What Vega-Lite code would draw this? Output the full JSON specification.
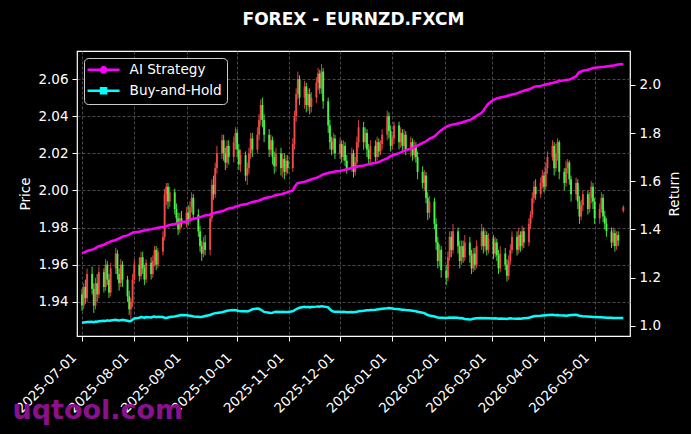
{
"$schema": "https://vega.github.io/schema/vega-lite/v6.json",
"width": 553, "height": 285,
"autosize": {"type": "none"},
"padding": {"left": 77, "top": 51, "right": 61, "bottom": 98},
"background": "#000000",
"title": {"text": "FOREX - EURNZD.FXCM", "color": "#ffffff", "font": "DejaVu Sans", "fontSize": 17, "fontWeight": "bold", "anchor": "middle", "baseline": "alphabetic", "offset": 9},
"config": {
 "view": {"stroke": "#ffffff", "strokeWidth": 1.2},
 "axis": {"domain": false, "tickColor": "#ffffff", "tickSize": 5, "tickWidth": 1, "labelColor": "#ffffff", "labelFont": "DejaVu Sans", "labelFontSize": 13.5, "labelPadding": 4, "titleColor": "#ffffff", "titleFont": "DejaVu Sans", "titleFontSize": 13.5, "titleFontWeight": "normal", "gridColor": "#5a5a5a", "gridDash": [3, 2], "gridWidth": 0.8},
 "legend": {"orient": "none", "legendX": 7, "legendY": 7, "fillColor": "#000000", "strokeColor": "#cccccc", "strokeWidth": 1, "cornerRadius": 4, "padding": 5, "rowPadding": 5, "labelColor": "#ffffff", "labelFont": "DejaVu Sans", "labelFontSize": 13.6, "symbolSize": 100, "symbolStrokeWidth": 2.5, "labelOffset": 27}
},
"data": {"values": [
{"d":"2025-07-01","o":1.944,"h":1.947,"l":1.935,"c":1.938,"a":1.300,"b":1.012},
{"d":"2025-07-02","o":1.938,"h":1.950,"l":1.936,"c":1.948,"a":1.303,"b":1.013},
{"d":"2025-07-03","o":1.948,"h":1.952,"l":1.939,"c":1.942,"a":1.306,"b":1.014},
{"d":"2025-07-04","o":1.942,"h":1.958,"l":1.940,"c":1.955,"a":1.310,"b":1.015},
{"d":"2025-07-07","o":1.955,"h":1.959,"l":1.944,"c":1.947,"a":1.316,"b":1.016},
{"d":"2025-07-08","o":1.947,"h":1.950,"l":1.934,"c":1.938,"a":1.318,"b":1.014},
{"d":"2025-07-09","o":1.938,"h":1.953,"l":1.936,"c":1.950,"a":1.322,"b":1.017},
{"d":"2025-07-10","o":1.950,"h":1.955,"l":1.940,"c":1.944,"a":1.326,"b":1.016},
{"d":"2025-07-11","o":1.944,"h":1.959,"l":1.942,"c":1.956,"a":1.330,"b":1.018},
{"d":"2025-07-14","o":1.956,"h":1.958,"l":1.945,"c":1.948,"a":1.336,"b":1.020},
{"d":"2025-07-15","o":1.948,"h":1.963,"l":1.946,"c":1.960,"a":1.340,"b":1.019},
{"d":"2025-07-16","o":1.960,"h":1.962,"l":1.949,"c":1.952,"a":1.344,"b":1.022},
{"d":"2025-07-17","o":1.952,"h":1.955,"l":1.942,"c":1.945,"a":1.346,"b":1.020},
{"d":"2025-07-18","o":1.945,"h":1.961,"l":1.943,"c":1.958,"a":1.350,"b":1.021},
{"d":"2025-07-21","o":1.958,"h":1.969,"l":1.955,"c":1.966,"a":1.356,"b":1.024},
{"d":"2025-07-22","o":1.966,"h":1.968,"l":1.952,"c":1.955,"a":1.359,"b":1.022},
{"d":"2025-07-23","o":1.955,"h":1.958,"l":1.946,"c":1.950,"a":1.362,"b":1.021},
{"d":"2025-07-24","o":1.950,"h":1.963,"l":1.948,"c":1.960,"a":1.366,"b":1.023},
{"d":"2025-07-25","o":1.960,"h":1.962,"l":1.948,"c":1.952,"a":1.370,"b":1.024},
{"d":"2025-07-28","o":1.952,"h":1.954,"l":1.940,"c":1.943,"a":1.375,"b":1.020},
{"d":"2025-07-29","o":1.943,"h":1.946,"l":1.933,"c":1.936,"a":1.378,"b":1.018},
{"d":"2025-07-30","o":1.936,"h":1.942,"l":1.930,"c":1.940,"a":1.382,"b":1.019},
{"d":"2025-07-31","o":1.940,"h":1.955,"l":1.937,"c":1.952,"a":1.386,"b":1.025},
{"d":"2025-08-01","o":1.952,"h":1.963,"l":1.950,"c":1.960,"a":1.388,"b":1.030},
{"d":"2025-08-04","o":1.960,"h":1.964,"l":1.951,"c":1.954,"a":1.390,"b":1.033},
{"d":"2025-08-05","o":1.954,"h":1.967,"l":1.952,"c":1.964,"a":1.392,"b":1.036},
{"d":"2025-08-06","o":1.964,"h":1.967,"l":1.955,"c":1.958,"a":1.394,"b":1.035},
{"d":"2025-08-07","o":1.958,"h":1.960,"l":1.949,"c":1.952,"a":1.395,"b":1.032},
{"d":"2025-08-08","o":1.952,"h":1.963,"l":1.950,"c":1.961,"a":1.397,"b":1.036},
{"d":"2025-08-11","o":1.961,"h":1.964,"l":1.952,"c":1.955,"a":1.400,"b":1.034},
{"d":"2025-08-12","o":1.955,"h":1.965,"l":1.953,"c":1.962,"a":1.402,"b":1.037},
{"d":"2025-08-13","o":1.962,"h":1.970,"l":1.959,"c":1.968,"a":1.404,"b":1.038},
{"d":"2025-08-14","o":1.968,"h":1.970,"l":1.957,"c":1.960,"a":1.405,"b":1.035},
{"d":"2025-08-15","o":1.960,"h":1.969,"l":1.958,"c":1.967,"a":1.407,"b":1.037},
{"d":"2025-08-18","o":1.967,"h":1.978,"l":1.965,"c":1.975,"a":1.410,"b":1.036},
{"d":"2025-08-19","o":1.975,"h":2.001,"l":1.973,"c":1.998,"a":1.412,"b":1.033},
{"d":"2025-08-20","o":1.998,"h":2.004,"l":1.992,"c":2.002,"a":1.413,"b":1.032},
{"d":"2025-08-21","o":2.002,"h":2.004,"l":1.990,"c":1.994,"a":1.416,"b":1.034},
{"d":"2025-08-22","o":1.994,"h":2.002,"l":1.991,"c":1.999,"a":1.418,"b":1.036},
{"d":"2025-08-25","o":1.999,"h":2.001,"l":1.987,"c":1.990,"a":1.422,"b":1.038},
{"d":"2025-08-26","o":1.990,"h":1.993,"l":1.982,"c":1.985,"a":1.424,"b":1.040},
{"d":"2025-08-27","o":1.985,"h":1.988,"l":1.976,"c":1.979,"a":1.426,"b":1.041},
{"d":"2025-08-28","o":1.979,"h":1.988,"l":1.977,"c":1.985,"a":1.429,"b":1.043},
{"d":"2025-08-29","o":1.985,"h":1.989,"l":1.980,"c":1.982,"a":1.431,"b":1.044},
{"d":"2025-09-01","o":1.982,"h":1.991,"l":1.980,"c":1.988,"a":1.433,"b":1.043},
{"d":"2025-09-02","o":1.988,"h":1.992,"l":1.981,"c":1.984,"a":1.436,"b":1.042},
{"d":"2025-09-03","o":1.984,"h":1.994,"l":1.982,"c":1.991,"a":1.439,"b":1.041},
{"d":"2025-09-04","o":1.991,"h":1.999,"l":1.988,"c":1.996,"a":1.442,"b":1.040},
{"d":"2025-09-05","o":1.996,"h":1.998,"l":1.984,"c":1.987,"a":1.444,"b":1.038},
{"d":"2025-09-08","o":1.987,"h":1.990,"l":1.975,"c":1.978,"a":1.448,"b":1.037},
{"d":"2025-09-09","o":1.978,"h":1.981,"l":1.967,"c":1.970,"a":1.451,"b":1.036},
{"d":"2025-09-10","o":1.970,"h":1.973,"l":1.962,"c":1.966,"a":1.453,"b":1.036},
{"d":"2025-09-11","o":1.966,"h":1.975,"l":1.964,"c":1.972,"a":1.456,"b":1.038},
{"d":"2025-09-12","o":1.972,"h":1.976,"l":1.965,"c":1.968,"a":1.458,"b":1.040},
{"d":"2025-09-15","o":1.968,"h":1.988,"l":1.965,"c":1.985,"a":1.461,"b":1.044},
{"d":"2025-09-16","o":1.985,"h":2.006,"l":1.983,"c":2.003,"a":1.464,"b":1.048},
{"d":"2025-09-17","o":2.003,"h":2.008,"l":1.995,"c":1.998,"a":1.467,"b":1.050},
{"d":"2025-09-18","o":1.998,"h":2.015,"l":1.996,"c":2.012,"a":1.469,"b":1.052},
{"d":"2025-09-19","o":2.012,"h":2.024,"l":2.009,"c":2.020,"a":1.471,"b":1.053},
{"d":"2025-09-22","o":2.020,"h":2.030,"l":2.017,"c":2.027,"a":1.475,"b":1.056},
{"d":"2025-09-23","o":2.027,"h":2.030,"l":2.016,"c":2.020,"a":1.478,"b":1.058},
{"d":"2025-09-24","o":2.020,"h":2.023,"l":2.011,"c":2.015,"a":1.481,"b":1.060},
{"d":"2025-09-25","o":2.015,"h":2.027,"l":2.012,"c":2.024,"a":1.484,"b":1.062},
{"d":"2025-09-26","o":2.024,"h":2.027,"l":2.014,"c":2.018,"a":1.487,"b":1.063},
{"d":"2025-09-29","o":2.018,"h":2.029,"l":2.015,"c":2.026,"a":1.491,"b":1.065},
{"d":"2025-09-30","o":2.026,"h":2.034,"l":2.022,"c":2.031,"a":1.494,"b":1.064},
{"d":"2025-10-01","o":2.031,"h":2.033,"l":2.018,"c":2.022,"a":1.496,"b":1.063},
{"d":"2025-10-02","o":2.022,"h":2.025,"l":2.011,"c":2.014,"a":1.498,"b":1.061},
{"d":"2025-10-03","o":2.014,"h":2.022,"l":2.010,"c":2.019,"a":1.501,"b":1.060},
{"d":"2025-10-06","o":2.019,"h":2.021,"l":2.005,"c":2.008,"a":1.504,"b":1.060},
{"d":"2025-10-07","o":2.008,"h":2.015,"l":2.003,"c":2.012,"a":1.506,"b":1.059},
{"d":"2025-10-08","o":2.012,"h":2.023,"l":2.009,"c":2.020,"a":1.509,"b":1.061},
{"d":"2025-10-09","o":2.020,"h":2.031,"l":2.017,"c":2.028,"a":1.511,"b":1.065},
{"d":"2025-10-10","o":2.028,"h":2.031,"l":2.018,"c":2.022,"a":1.514,"b":1.068},
{"d":"2025-10-13","o":2.022,"h":2.034,"l":2.020,"c":2.030,"a":1.518,"b":1.071},
{"d":"2025-10-14","o":2.030,"h":2.041,"l":2.027,"c":2.038,"a":1.520,"b":1.070},
{"d":"2025-10-15","o":2.038,"h":2.049,"l":2.035,"c":2.046,"a":1.523,"b":1.066},
{"d":"2025-10-16","o":2.046,"h":2.050,"l":2.034,"c":2.038,"a":1.526,"b":1.062},
{"d":"2025-10-17","o":2.038,"h":2.041,"l":2.026,"c":2.030,"a":1.529,"b":1.057},
{"d":"2025-10-20","o":2.030,"h":2.033,"l":2.018,"c":2.022,"a":1.533,"b":1.054},
{"d":"2025-10-21","o":2.022,"h":2.030,"l":2.019,"c":2.027,"a":1.535,"b":1.053},
{"d":"2025-10-22","o":2.027,"h":2.029,"l":2.014,"c":2.018,"a":1.537,"b":1.054},
{"d":"2025-10-23","o":2.018,"h":2.021,"l":2.009,"c":2.013,"a":1.540,"b":1.056},
{"d":"2025-10-24","o":2.013,"h":2.023,"l":2.010,"c":2.020,"a":1.543,"b":1.058},
{"d":"2025-10-27","o":2.020,"h":2.023,"l":2.008,"c":2.012,"a":1.546,"b":1.057},
{"d":"2025-10-28","o":2.012,"h":2.020,"l":2.007,"c":2.017,"a":1.548,"b":1.058},
{"d":"2025-10-29","o":2.017,"h":2.020,"l":2.006,"c":2.010,"a":1.550,"b":1.057},
{"d":"2025-10-30","o":2.010,"h":2.019,"l":2.008,"c":2.016,"a":1.552,"b":1.057},
{"d":"2025-10-31","o":2.016,"h":2.019,"l":2.009,"c":2.012,"a":1.555,"b":1.057},
{"d":"2025-11-03","o":2.012,"h":2.028,"l":2.010,"c":2.025,"a":1.562,"b":1.060},
{"d":"2025-11-04","o":2.025,"h":2.043,"l":2.022,"c":2.040,"a":1.575,"b":1.064},
{"d":"2025-11-05","o":2.040,"h":2.055,"l":2.037,"c":2.052,"a":1.586,"b":1.068},
{"d":"2025-11-06","o":2.052,"h":2.064,"l":2.049,"c":2.060,"a":1.593,"b":1.072},
{"d":"2025-11-07","o":2.060,"h":2.062,"l":2.046,"c":2.050,"a":1.594,"b":1.074},
{"d":"2025-11-10","o":2.050,"h":2.059,"l":2.044,"c":2.056,"a":1.598,"b":1.078},
{"d":"2025-11-11","o":2.056,"h":2.058,"l":2.042,"c":2.046,"a":1.600,"b":1.077},
{"d":"2025-11-12","o":2.046,"h":2.055,"l":2.043,"c":2.052,"a":1.603,"b":1.078},
{"d":"2025-11-13","o":2.052,"h":2.055,"l":2.041,"c":2.045,"a":1.605,"b":1.076},
{"d":"2025-11-14","o":2.045,"h":2.053,"l":2.042,"c":2.050,"a":1.608,"b":1.077},
{"d":"2025-11-17","o":2.050,"h":2.061,"l":2.047,"c":2.058,"a":1.614,"b":1.079},
{"d":"2025-11-18","o":2.058,"h":2.066,"l":2.054,"c":2.063,"a":1.617,"b":1.080},
{"d":"2025-11-19","o":2.063,"h":2.065,"l":2.052,"c":2.055,"a":1.620,"b":1.079},
{"d":"2025-11-20","o":2.055,"h":2.068,"l":2.052,"c":2.064,"a":1.624,"b":1.081},
{"d":"2025-11-21","o":2.064,"h":2.066,"l":2.044,"c":2.048,"a":1.628,"b":1.080},
{"d":"2025-11-24","o":2.048,"h":2.050,"l":2.031,"c":2.035,"a":1.634,"b":1.076},
{"d":"2025-11-25","o":2.035,"h":2.038,"l":2.022,"c":2.026,"a":1.636,"b":1.068},
{"d":"2025-11-26","o":2.026,"h":2.029,"l":2.019,"c":2.022,"a":1.637,"b":1.062},
{"d":"2025-11-27","o":2.022,"h":2.031,"l":2.020,"c":2.028,"a":1.638,"b":1.059},
{"d":"2025-11-28","o":2.028,"h":2.030,"l":2.017,"c":2.020,"a":1.640,"b":1.058},
{"d":"2025-12-01","o":2.020,"h":2.028,"l":2.017,"c":2.025,"a":1.642,"b":1.058},
{"d":"2025-12-02","o":2.025,"h":2.027,"l":2.015,"c":2.018,"a":1.644,"b":1.057},
{"d":"2025-12-03","o":2.018,"h":2.027,"l":2.016,"c":2.024,"a":1.646,"b":1.058},
{"d":"2025-12-04","o":2.024,"h":2.026,"l":2.013,"c":2.016,"a":1.648,"b":1.057},
{"d":"2025-12-05","o":2.016,"h":2.019,"l":2.009,"c":2.012,"a":1.650,"b":1.056},
{"d":"2025-12-08","o":2.012,"h":2.023,"l":2.010,"c":2.020,"a":1.655,"b":1.057},
{"d":"2025-12-09","o":2.020,"h":2.022,"l":2.007,"c":2.010,"a":1.657,"b":1.056},
{"d":"2025-12-10","o":2.010,"h":2.018,"l":2.008,"c":2.015,"a":1.658,"b":1.057},
{"d":"2025-12-11","o":2.015,"h":2.029,"l":2.013,"c":2.026,"a":1.660,"b":1.058},
{"d":"2025-12-12","o":2.026,"h":2.038,"l":2.023,"c":2.034,"a":1.662,"b":1.060},
{"d":"2025-12-15","o":2.034,"h":2.037,"l":2.022,"c":2.026,"a":1.665,"b":1.062},
{"d":"2025-12-16","o":2.026,"h":2.034,"l":2.023,"c":2.031,"a":1.667,"b":1.063},
{"d":"2025-12-17","o":2.031,"h":2.033,"l":2.018,"c":2.022,"a":1.669,"b":1.064},
{"d":"2025-12-18","o":2.022,"h":2.025,"l":2.014,"c":2.017,"a":1.671,"b":1.064},
{"d":"2025-12-19","o":2.017,"h":2.027,"l":2.015,"c":2.024,"a":1.673,"b":1.065},
{"d":"2025-12-22","o":2.024,"h":2.027,"l":2.015,"c":2.018,"a":1.676,"b":1.066},
{"d":"2025-12-23","o":2.018,"h":2.029,"l":2.016,"c":2.026,"a":1.678,"b":1.067},
{"d":"2025-12-24","o":2.026,"h":2.028,"l":2.018,"c":2.021,"a":1.680,"b":1.068},
{"d":"2025-12-25","o":2.021,"h":2.027,"l":2.019,"c":2.025,"a":1.683,"b":1.069},
{"d":"2025-12-26","o":2.025,"h":2.033,"l":2.022,"c":2.030,"a":1.687,"b":1.070},
{"d":"2025-12-29","o":2.030,"h":2.043,"l":2.027,"c":2.040,"a":1.695,"b":1.072},
{"d":"2025-12-30","o":2.040,"h":2.042,"l":2.028,"c":2.032,"a":1.700,"b":1.073},
{"d":"2025-12-31","o":2.032,"h":2.035,"l":2.021,"c":2.024,"a":1.705,"b":1.072},
{"d":"2026-01-01","o":2.024,"h":2.030,"l":2.022,"c":2.028,"a":1.707,"b":1.071},
{"d":"2026-01-02","o":2.028,"h":2.037,"l":2.025,"c":2.035,"a":1.710,"b":1.070},
{"d":"2026-01-05","o":2.035,"h":2.037,"l":2.022,"c":2.026,"a":1.717,"b":1.068},
{"d":"2026-01-06","o":2.026,"h":2.034,"l":2.023,"c":2.031,"a":1.720,"b":1.067},
{"d":"2026-01-07","o":2.031,"h":2.033,"l":2.021,"c":2.024,"a":1.723,"b":1.066},
{"d":"2026-01-08","o":2.024,"h":2.033,"l":2.022,"c":2.030,"a":1.726,"b":1.066},
{"d":"2026-01-09","o":2.030,"h":2.032,"l":2.019,"c":2.022,"a":1.729,"b":1.065},
{"d":"2026-01-12","o":2.022,"h":2.029,"l":2.018,"c":2.026,"a":1.735,"b":1.063},
{"d":"2026-01-13","o":2.026,"h":2.028,"l":2.016,"c":2.019,"a":1.738,"b":1.062},
{"d":"2026-01-14","o":2.019,"h":2.027,"l":2.017,"c":2.024,"a":1.741,"b":1.061},
{"d":"2026-01-15","o":2.024,"h":2.026,"l":2.015,"c":2.018,"a":1.745,"b":1.060},
{"d":"2026-01-16","o":2.018,"h":2.021,"l":2.006,"c":2.010,"a":1.748,"b":1.058},
{"d":"2026-01-19","o":2.010,"h":2.013,"l":2.001,"c":2.004,"a":1.759,"b":1.054},
{"d":"2026-01-20","o":2.004,"h":2.011,"l":2.000,"c":2.008,"a":1.762,"b":1.052},
{"d":"2026-01-21","o":2.008,"h":2.010,"l":1.993,"c":1.996,"a":1.766,"b":1.048},
{"d":"2026-01-22","o":1.996,"h":1.999,"l":1.984,"c":1.988,"a":1.771,"b":1.044},
{"d":"2026-01-23","o":1.988,"h":1.997,"l":1.985,"c":1.994,"a":1.776,"b":1.042},
{"d":"2026-01-26","o":1.994,"h":1.996,"l":1.979,"c":1.982,"a":1.786,"b":1.038},
{"d":"2026-01-27","o":1.982,"h":1.985,"l":1.968,"c":1.972,"a":1.792,"b":1.036},
{"d":"2026-01-28","o":1.972,"h":1.975,"l":1.958,"c":1.962,"a":1.800,"b":1.034},
{"d":"2026-01-29","o":1.962,"h":1.971,"l":1.959,"c":1.968,"a":1.806,"b":1.033},
{"d":"2026-01-30","o":1.968,"h":1.970,"l":1.953,"c":1.957,"a":1.812,"b":1.033},
{"d":"2026-02-02","o":1.957,"h":1.960,"l":1.949,"c":1.953,"a":1.826,"b":1.032},
{"d":"2026-02-03","o":1.953,"h":1.967,"l":1.951,"c":1.964,"a":1.829,"b":1.033},
{"d":"2026-02-04","o":1.964,"h":1.978,"l":1.962,"c":1.975,"a":1.832,"b":1.034},
{"d":"2026-02-05","o":1.975,"h":1.978,"l":1.964,"c":1.968,"a":1.834,"b":1.033},
{"d":"2026-02-06","o":1.968,"h":1.982,"l":1.966,"c":1.978,"a":1.836,"b":1.034},
{"d":"2026-02-09","o":1.978,"h":1.980,"l":1.966,"c":1.970,"a":1.840,"b":1.033},
{"d":"2026-02-10","o":1.970,"h":1.973,"l":1.958,"c":1.962,"a":1.842,"b":1.031},
{"d":"2026-02-11","o":1.962,"h":1.973,"l":1.960,"c":1.970,"a":1.843,"b":1.032},
{"d":"2026-02-12","o":1.970,"h":1.973,"l":1.961,"c":1.964,"a":1.846,"b":1.030},
{"d":"2026-02-13","o":1.964,"h":1.976,"l":1.962,"c":1.972,"a":1.848,"b":1.028},
{"d":"2026-02-16","o":1.972,"h":1.975,"l":1.961,"c":1.965,"a":1.855,"b":1.026},
{"d":"2026-02-17","o":1.965,"h":1.968,"l":1.955,"c":1.958,"a":1.858,"b":1.027},
{"d":"2026-02-18","o":1.958,"h":1.969,"l":1.956,"c":1.966,"a":1.862,"b":1.029},
{"d":"2026-02-19","o":1.966,"h":1.969,"l":1.957,"c":1.960,"a":1.866,"b":1.030},
{"d":"2026-02-20","o":1.960,"h":1.973,"l":1.958,"c":1.970,"a":1.872,"b":1.031},
{"d":"2026-02-23","o":1.970,"h":1.982,"l":1.968,"c":1.978,"a":1.884,"b":1.032},
{"d":"2026-02-24","o":1.978,"h":1.980,"l":1.966,"c":1.970,"a":1.893,"b":1.031},
{"d":"2026-02-25","o":1.970,"h":1.979,"l":1.967,"c":1.976,"a":1.903,"b":1.032},
{"d":"2026-02-26","o":1.976,"h":1.978,"l":1.965,"c":1.968,"a":1.913,"b":1.031},
{"d":"2026-02-27","o":1.968,"h":1.977,"l":1.966,"c":1.974,"a":1.922,"b":1.031},
{"d":"2026-03-02","o":1.974,"h":1.976,"l":1.963,"c":1.966,"a":1.938,"b":1.030},
{"d":"2026-03-03","o":1.966,"h":1.975,"l":1.964,"c":1.972,"a":1.941,"b":1.031},
{"d":"2026-03-04","o":1.972,"h":1.974,"l":1.962,"c":1.965,"a":1.944,"b":1.030},
{"d":"2026-03-05","o":1.965,"h":1.968,"l":1.955,"c":1.958,"a":1.946,"b":1.029},
{"d":"2026-03-06","o":1.958,"h":1.970,"l":1.956,"c":1.966,"a":1.948,"b":1.030},
{"d":"2026-03-09","o":1.966,"h":1.969,"l":1.957,"c":1.960,"a":1.952,"b":1.029},
{"d":"2026-03-10","o":1.960,"h":1.963,"l":1.951,"c":1.954,"a":1.954,"b":1.028},
{"d":"2026-03-11","o":1.954,"h":1.965,"l":1.952,"c":1.962,"a":1.956,"b":1.030},
{"d":"2026-03-12","o":1.962,"h":1.971,"l":1.960,"c":1.968,"a":1.958,"b":1.031},
{"d":"2026-03-13","o":1.968,"h":1.978,"l":1.966,"c":1.975,"a":1.960,"b":1.030},
{"d":"2026-03-16","o":1.975,"h":1.978,"l":1.965,"c":1.968,"a":1.965,"b":1.029},
{"d":"2026-03-17","o":1.968,"h":1.980,"l":1.966,"c":1.976,"a":1.968,"b":1.030},
{"d":"2026-03-18","o":1.976,"h":1.978,"l":1.967,"c":1.970,"a":1.971,"b":1.029},
{"d":"2026-03-19","o":1.970,"h":1.981,"l":1.968,"c":1.978,"a":1.973,"b":1.030},
{"d":"2026-03-20","o":1.978,"h":1.980,"l":1.969,"c":1.972,"a":1.976,"b":1.031},
{"d":"2026-03-23","o":1.972,"h":1.985,"l":1.970,"c":1.982,"a":1.982,"b":1.033},
{"d":"2026-03-24","o":1.982,"h":1.989,"l":1.979,"c":1.987,"a":1.985,"b":1.035},
{"d":"2026-03-25","o":1.987,"h":1.999,"l":1.985,"c":1.996,"a":1.988,"b":1.037},
{"d":"2026-03-26","o":1.996,"h":2.005,"l":1.993,"c":2.002,"a":1.992,"b":1.039},
{"d":"2026-03-27","o":2.002,"h":2.006,"l":1.995,"c":1.998,"a":1.994,"b":1.040},
{"d":"2026-03-30","o":1.998,"h":2.007,"l":1.996,"c":2.004,"a":1.996,"b":1.041},
{"d":"2026-03-31","o":2.004,"h":2.011,"l":2.001,"c":2.008,"a":1.998,"b":1.042},
{"d":"2026-04-01","o":2.008,"h":2.010,"l":1.999,"c":2.002,"a":2.000,"b":1.042},
{"d":"2026-04-02","o":2.002,"h":2.015,"l":2.000,"c":2.012,"a":2.002,"b":1.043},
{"d":"2026-04-03","o":2.012,"h":2.021,"l":2.009,"c":2.018,"a":2.004,"b":1.044},
{"d":"2026-04-06","o":2.018,"h":2.027,"l":2.016,"c":2.024,"a":2.008,"b":1.045},
{"d":"2026-04-07","o":2.024,"h":2.026,"l":2.008,"c":2.012,"a":2.010,"b":1.044},
{"d":"2026-04-08","o":2.012,"h":2.025,"l":2.010,"c":2.020,"a":2.012,"b":1.043},
{"d":"2026-04-09","o":2.020,"h":2.028,"l":2.016,"c":2.026,"a":2.014,"b":1.044},
{"d":"2026-04-10","o":2.026,"h":2.027,"l":2.006,"c":2.010,"a":2.016,"b":1.043},
{"d":"2026-04-13","o":2.010,"h":2.012,"l":2.000,"c":2.004,"a":2.019,"b":1.042},
{"d":"2026-04-14","o":2.004,"h":2.016,"l":2.002,"c":2.012,"a":2.021,"b":1.041},
{"d":"2026-04-15","o":2.012,"h":2.017,"l":2.009,"c":2.015,"a":2.022,"b":1.042},
{"d":"2026-04-16","o":2.015,"h":2.016,"l":2.003,"c":2.006,"a":2.023,"b":1.043},
{"d":"2026-04-17","o":2.006,"h":2.008,"l":1.994,"c":1.998,"a":2.025,"b":1.044},
{"d":"2026-04-20","o":1.998,"h":2.007,"l":1.995,"c":2.004,"a":2.036,"b":1.045},
{"d":"2026-04-21","o":2.004,"h":2.006,"l":1.990,"c":1.994,"a":2.046,"b":1.043},
{"d":"2026-04-22","o":1.994,"h":1.997,"l":1.982,"c":1.986,"a":2.054,"b":1.041},
{"d":"2026-04-23","o":1.986,"h":1.995,"l":1.984,"c":1.992,"a":2.056,"b":1.040},
{"d":"2026-04-24","o":1.992,"h":2.000,"l":1.989,"c":1.998,"a":2.059,"b":1.039},
{"d":"2026-04-27","o":1.998,"h":2.000,"l":1.987,"c":1.990,"a":2.063,"b":1.038},
{"d":"2026-04-28","o":1.990,"h":1.999,"l":1.988,"c":1.996,"a":2.065,"b":1.037},
{"d":"2026-04-29","o":1.996,"h":2.005,"l":1.993,"c":2.002,"a":2.068,"b":1.037},
{"d":"2026-04-30","o":2.002,"h":2.004,"l":1.990,"c":1.994,"a":2.070,"b":1.036},
{"d":"2026-05-01","o":1.994,"h":1.996,"l":1.982,"c":1.985,"a":2.071,"b":1.036},
{"d":"2026-05-04","o":1.985,"h":1.993,"l":1.982,"c":1.990,"a":2.073,"b":1.035},
{"d":"2026-05-05","o":1.990,"h":1.999,"l":1.988,"c":1.996,"a":2.074,"b":1.035},
{"d":"2026-05-06","o":1.996,"h":1.998,"l":1.983,"c":1.986,"a":2.075,"b":1.034},
{"d":"2026-05-07","o":1.986,"h":1.989,"l":1.979,"c":1.982,"a":2.076,"b":1.034},
{"d":"2026-05-08","o":1.982,"h":1.985,"l":1.975,"c":1.978,"a":2.077,"b":1.033},
{"d":"2026-05-11","o":1.978,"h":1.980,"l":1.969,"c":1.972,"a":2.080,"b":1.033},
{"d":"2026-05-12","o":1.972,"h":1.980,"l":1.970,"c":1.977,"a":2.081,"b":1.032},
{"d":"2026-05-13","o":1.977,"h":1.979,"l":1.967,"c":1.970,"a":2.082,"b":1.032},
{"d":"2026-05-14","o":1.970,"h":1.978,"l":1.968,"c":1.976,"a":2.084,"b":1.032},
{"d":"2026-05-15","o":1.976,"h":1.978,"l":1.970,"c":1.973,"a":2.085,"b":1.032},
{"d":"2026-05-18","o":1.989,"h":1.992,"l":1.988,"c":1.991,"a":2.087,"b":1.032}
]},
"encoding": {
 "x": {"field": "d", "type": "temporal",
  "scale": {"type": "utc", "domain": [{"year": 2025, "month": 7, "date": 1, "utc": true}, {"year": 2026, "month": 5, "date": 19, "utc": true}]},
  "axis": {"format": "%Y-%m-%d", "tickCount": {"interval": "month", "step": 1}, "labelAngle": -45, "labelAlign": "right", "labelBaseline": "middle", "labelPadding": 14, "labelOffset": -8, "labelOverlap": false, "labelFlush": false, "labelBound": false, "grid": true,
   "title": "uqtool.com", "titleColor": "#8b108b", "titleFont": "DejaVu Sans", "titleFontSize": 27, "titleFontWeight": "bold", "titleAnchor": "start", "titleAlign": "left", "titleBaseline": "alphabetic", "titleX": -65, "titleY": 82}}
},
"layer": [
 {
  "encoding": {
   "y": {"field": "l", "type": "quantitative", "scale": {"domain": [1.9216, 2.0751], "nice": false, "zero": false},
    "axis": {"title": "Price", "values": [1.94, 1.96, 1.98, 2.0, 2.02, 2.04, 2.06], "format": ".2f", "grid": true, "titlePadding": 5}},
   "y2": {"field": "h"},
   "color": {"condition": {"test": "datum.c >= datum.o", "value": "#ff4b4b"}, "value": "#4bff4b"}
  },
  "layer": [
   {"mark": {"type": "rule", "strokeWidth": 1, "opacity": 0.85}},
   {"mark": {"type": "bar", "size": 2, "opacity": 0.85},
    "encoding": {
     "y": {"field": "o", "type": "quantitative", "scale": {"domain": [1.9216, 2.0751], "nice": false, "zero": false},
      "axis": {"title": "Price", "values": [1.94, 1.96, 1.98, 2.0, 2.02, 2.04, 2.06], "format": ".2f", "grid": true, "titlePadding": 5}},
     "y2": {"field": "c"}
    }}
  ]
 },
 {
  "transform": [{"fold": ["a", "b"], "as": ["s", "v"]}],
  "encoding": {
   "y": {"field": "v", "type": "quantitative", "scale": {"domain": [0.957, 2.141], "nice": false, "zero": false},
    "axis": {"orient": "right", "title": "Return", "titleAngle": 270, "titlePadding": 21, "values": [1.0, 1.2, 1.4, 1.6, 1.8, 2.0], "format": ".1f", "grid": false}}
  },
  "layer": [
   {"mark": {"type": "line", "strokeWidth": 2.5},
    "encoding": {"color": {"field": "s", "type": "nominal", "scale": {"domain": ["a", "b"], "range": ["#ff00ff", "#00ffff"]},
     "legend": {"title": null, "labelExpr": "datum.label == 'a' ? 'AI Strategy' : 'Buy-and-Hold'",
      "symbolType": "M-1.65,0H4.75",
      "encode": {"symbols": {"update": {
        "shape": {"signal": "datum.value == 'a' ? 'M-1.65,0H4.75M2.05,0A0.5,0.5 0 1,0 1.05,0A0.5,0.5 0 1,0 2.05,0Z' : 'M-1.65,0H4.75M1.05,-0.5H2.05V0.5H1.05Z'"},
        "fill": {"signal": "datum.value == 'a' ? '#ff00ff' : '#00ffff'"},
        "stroke": {"signal": "datum.value == 'a' ? '#ff00ff' : '#00ffff'"}}}}}}}},
   {"transform": [{"filter": "datum.s == 'a'"}, {"filter": {"field": "d", "oneOf": ["2025-08-01", "2025-09-04", "2025-10-07", "2025-11-11", "2025-12-15", "2026-01-16", "2026-02-17", "2026-03-18", "2026-04-17"]}}],
    "mark": {"type": "point", "shape": "circle", "filled": true, "size": 28, "color": "#ff00ff", "opacity": 1}},
   {"transform": [{"filter": "datum.s == 'b'"}, {"filter": {"field": "d", "oneOf": ["2025-08-01", "2025-09-04", "2025-10-07", "2025-11-11", "2025-12-15", "2026-01-16", "2026-02-17", "2026-03-18", "2026-04-17"]}}],
    "mark": {"type": "point", "shape": "square", "filled": true, "size": 28, "color": "#00ffff", "opacity": 1}}
  ]
 }
],
"resolve": {"scale": {"y": "independent"}}
}
